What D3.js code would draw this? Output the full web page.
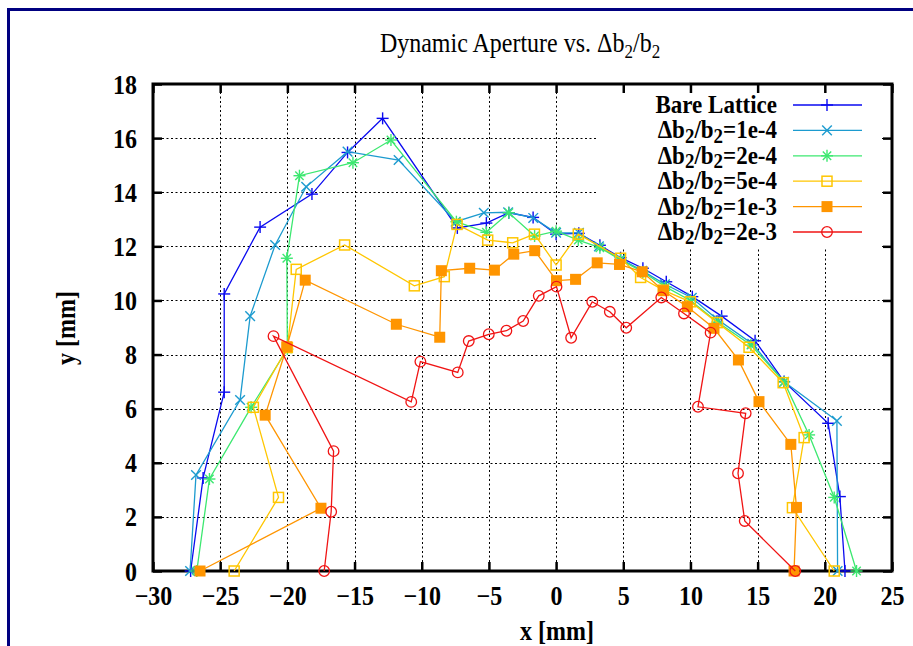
<!DOCTYPE html>
<html>
<head>
<meta charset="utf-8">
<script src="https://cdn.jsdelivr.net/npm/d3@7"></script>
<style>
  html, body { margin: 0; padding: 0; background: #fff; }
  svg { display: block; }
  svg text { font-family: "Liberation Serif", Tinos, "Times New Roman", "Nimbus Roman", "DejaVu Serif", serif; }
</style>
</head>
<body>
<svg id="chart" width="913" height="646"></svg>
<script>
// Dynamic aperture boundaries (x, y in mm) for several quadrupole error levels
const bareX = [-27.2, -26.27, -24.7, -24.7, -22.03, -18.17, -15.52, -12.91, -7.35, -5.19, -3.52, -1.71, 0.0, 1.69, 3.26, 4.8, 6.46, 8.2, 10.14, 12.32, 14.81, 16.97, 20.25, 21.12, 21.5];
const bareY = [0, 3.44, 6.61, 10.24, 12.71, 13.93, 15.47, 16.73, 12.68, 12.86, 13.24, 13.07, 12.45, 12.48, 12.04, 11.58, 11.19, 10.69, 10.14, 9.42, 8.51, 7.0, 5.46, 2.75, 0];

const e1X = [-27.24, -26.8, -23.52, -22.77, -20.91, -18.6, -15.52, -11.72, -7.47, -5.38, -3.57, -1.7, 0.0, 1.7, 3.19, 4.8, 6.4, 8.1, 10.1, 12.0, 14.6, 16.97, 20.9, 20.95];
const e1Y = [0, 3.55, 6.32, 9.42, 12.05, 14.2, 15.5, 15.19, 12.91, 13.24, 13.26, 13.05, 12.5, 12.5, 12.0, 11.53, 11.1, 10.6, 10.1, 9.3, 8.4, 6.99, 5.55, 0];

const e2X = [-26.74, -25.8, -22.7, -20.0, -20.04, -19.1, -15.12, -12.29, -7.42, -5.19, -3.52, -1.6, 0.0, 1.65, 3.26, 4.8, 6.46, 8.15, 10.0, 12.0, 14.5, 16.97, 18.83, 20.7, 22.36];
const e2Y = [0, 3.4, 6.05, 8.2, 11.56, 14.61, 15.09, 15.93, 12.91, 12.52, 13.24, 12.38, 12.56, 12.23, 11.95, 11.5, 11.05, 10.5, 10.0, 9.2, 8.35, 6.99, 5.03, 2.72, 0];

const e5X = [-23.96, -20.66, -22.53, -20.0, -19.34, -15.74, -10.55, -8.32, -7.37, -5.09, -3.23, -1.61, 0.0, 1.65, 4.8, 6.29, 7.98, 9.99, 12.0, 14.36, 16.9, 18.46, 17.59, 20.7];
const e5Y = [0, 2.72, 6.05, 8.26, 11.15, 12.05, 10.54, 10.88, 12.81, 12.23, 12.13, 12.45, 11.31, 12.45, 11.56, 10.85, 10.38, 9.95, 9.18, 8.27, 6.96, 4.93, 2.34, 0];

const e10X = [-26.5, -17.5, -21.65, -20.04, -18.67, -11.89, -8.66, -8.54, -6.43, -4.59, -3.15, -1.59, 0.03, 1.45, 3.06, 4.72, 6.41, 7.98, 9.77, 11.75, 13.57, 15.1, 17.47, 17.89, 17.71];
const e10Y = [0, 2.32, 5.76, 8.29, 10.75, 9.12, 8.64, 11.1, 11.19, 11.12, 11.71, 11.84, 10.73, 10.78, 11.39, 11.33, 11.06, 10.36, 9.77, 8.97, 7.8, 6.26, 4.68, 2.35, 0];

const e20X = [-17.26, -16.74, -16.56, -21.03, -10.78, -10.1, -7.32, -6.5, -5.01, -3.7, -2.45, -1.29, 0.03, 1.12, 2.69, 4.0, 5.22, 7.83, 9.52, 11.5, 10.56, 14.11, 13.54, 14.04, 17.8];
const e20Y = [0, 2.19, 4.43, 8.68, 6.25, 7.74, 7.34, 8.5, 8.75, 8.88, 9.24, 10.17, 10.51, 8.62, 9.95, 9.58, 8.99, 10.11, 9.52, 8.81, 6.07, 5.83, 3.61, 1.85, 0];

const xTicks = [-30, -25, -20, -15, -10, -5, 0, 5, 10, 15, 20, 25];
const yTicks = [0, 2, 4, 6, 8, 10, 12, 14, 16, 18];

const seriesNames = ["Bare Lattice", "1e-4", "2e-4", "5e-4", "1e-3", "2e-3"];
const seriesColors = ["#0a0af0", "#1c9bcf", "#3ce870", "#ffc600", "#ff9500", "#f01414"];
const seriesMarkers = ["plus", "cross", "star", "square", "fsquare", "circle"];
const seriesX = [bareX, e1X, e2X, e5X, e10X, e20X];
const seriesY = [bareY, e1Y, e2Y, e5Y, e10Y, e20Y];

const FONT = '"Liberation Serif", Tinos, "Times New Roman", "Nimbus Roman", "DejaVu Serif", serif';
const SY = 1.12; // glyphs are drawn slightly tall
const svg = d3.select("#chart");
const L = 153, T = 84, R = 892, B = 571;

// text placed at a baseline point, stretched vertically
function label(px, py, anchor, size, weight, rotate, sy) {
  const k = sy || SY;
  const g = svg.append("g").attr("transform", `translate(${px},${py})` + (rotate ? ` rotate(${rotate})` : "") + ` scale(1,${k})`);
  return g.append("text").attr("x", 0).attr("y", 0).attr("text-anchor", anchor)
    .attr("font-family", FONT).attr("font-size", size).attr("font-weight", weight).attr("fill", "#000");
}

// page frame
svg.append("rect").attr("x", 8.5).attr("y", 9.5).attr("width", 930).attr("height", 680)
  .attr("fill", "none").attr("stroke", "#000080").attr("stroke-width", 3);

const x = d3.scaleLinear().domain([-30, 25]).range([L, R]);
const y = d3.scaleLinear().domain([0, 18]).range([B, T]);

// title
const title = label(520, 52, "middle", 24, "normal");
title.append("tspan").text("Dynamic Aperture vs. \u0394b");
title.append("tspan").attr("font-size", 17).attr("dy", 5).text("2");
title.append("tspan").attr("dy", -5).text("/b");
title.append("tspan").attr("font-size", 17).attr("dy", 5).text("2");

// grid
const grid = svg.append("g").attr("stroke", "#000").attr("stroke-width", 1).attr("stroke-dasharray", "2,2.5");
grid.selectAll("line.gx").data(xTicks.slice(1, -1)).join("line")
  .attr("x1", d => Math.round(x(d)) + 0.5).attr("x2", d => Math.round(x(d)) + 0.5)
  .attr("y1", B).attr("y2", T);
grid.selectAll("line.gy").data(yTicks.slice(1, -1)).join("line")
  .attr("y1", d => Math.round(y(d)) + 0.5).attr("y2", d => Math.round(y(d)) + 0.5)
  .attr("x1", L).attr("x2", R);

// opaque key background
svg.append("rect").attr("x", 596).attr("y", 87).attr("width", 284).attr("height", 161).attr("fill", "#fff");

// axes with inward ticks on all four sides
const axisStyle = g => {
  g.attr("font-family", FONT);
  g.select(".domain").remove();
  g.selectAll(".tick line").attr("stroke", "#000").attr("stroke-width", 2.5);
  g.selectAll(".tick text").attr("font-family", FONT).attr("font-weight", "bold")
    .attr("font-size", 24).attr("fill", "#000");
};
svg.append("g").attr("transform", `translate(0,${B})`)
  .call(d3.axisBottom(x).tickValues(xTicks).tickSizeInner(-9).tickSizeOuter(0).tickFormat(d3.format("d")))
  .call(axisStyle)
  .call(g => g.selectAll(".tick text").attr("y", 0).attr("dy", null)
    .attr("transform", `translate(0,34) scale(1,${SY})`));
svg.append("g").attr("transform", `translate(0,${T})`)
  .call(d3.axisTop(x).tickValues(xTicks).tickSizeInner(-9).tickSizeOuter(0).tickFormat(""))
  .call(axisStyle);
svg.append("g").attr("transform", `translate(${L},0)`)
  .call(d3.axisLeft(y).tickValues(yTicks).tickSizeInner(-9).tickSizeOuter(0).tickFormat(d3.format("d")))
  .call(axisStyle)
  .call(g => g.selectAll(".tick text").attr("x", 0).attr("dy", null)
    .attr("transform", `translate(-16,9) scale(1,${SY})`));
svg.append("g").attr("transform", `translate(${R},0)`)
  .call(d3.axisRight(y).tickValues(yTicks).tickSizeInner(-9).tickSizeOuter(0).tickFormat(""))
  .call(axisStyle);

// plot border
svg.append("rect").attr("x", L).attr("y", T).attr("width", R - L).attr("height", B - T)
  .attr("fill", "none").attr("stroke", "#000").attr("stroke-width", 3);

// point markers
function marker(g, kind, cx, cy, color) {
  const s = 5.5;
  if (kind === "plus" || kind === "star") {
    g.append("line").attr("x1", cx - s - 0.5).attr("x2", cx + s + 0.5).attr("y1", cy).attr("y2", cy).attr("stroke", color).attr("stroke-width", 1.4);
    g.append("line").attr("x1", cx).attr("x2", cx).attr("y1", cy - s - 0.5).attr("y2", cy + s + 0.5).attr("stroke", color).attr("stroke-width", 1.4);
  }
  if (kind === "cross" || kind === "star") {
    const c = kind === "star" ? 4.2 : 4.8;
    g.append("line").attr("x1", cx - c).attr("x2", cx + c).attr("y1", cy - c).attr("y2", cy + c).attr("stroke", color).attr("stroke-width", 1.4);
    g.append("line").attr("x1", cx - c).attr("x2", cx + c).attr("y1", cy + c).attr("y2", cy - c).attr("stroke", color).attr("stroke-width", 1.4);
  }
  if (kind === "square") {
    g.append("rect").attr("x", cx - 5).attr("y", cy - 5).attr("width", 10).attr("height", 10)
      .attr("fill", "none").attr("stroke", color).attr("stroke-width", 1.5);
  }
  if (kind === "fsquare") {
    g.append("rect").attr("x", cx - 5.5).attr("y", cy - 5.5).attr("width", 11).attr("height", 11)
      .attr("fill", color).attr("stroke", "none");
  }
  if (kind === "circle") {
    g.append("circle").attr("cx", cx).attr("cy", cy).attr("r", 5.3)
      .attr("fill", "none").attr("stroke", color).attr("stroke-width", 1.3);
  }
}

// data series
const line = d3.line().x(d => x(d[0])).y(d => y(d[1]));
seriesX.forEach((xs, i) => {
  const pts = xs.map((v, k) => [v, seriesY[i][k]]);
  const g = svg.append("g");
  g.append("path").attr("d", line(pts)).attr("fill", "none")
    .attr("stroke", seriesColors[i]).attr("stroke-width", 1.3);
  pts.forEach(p => marker(g, seriesMarkers[i], x(p[0]), y(p[1]), seriesColors[i]));
});

// legend
const legY0 = 105, legDY = 25.4;
seriesNames.forEach((name, i) => {
  const ly = legY0 + i * legDY;
  const t = label(777, ly + 8, "end", 23, "bold", 0, 1.08);
  if (i === 0) {
    t.text(name);
  } else {
    t.append("tspan").text("\u0394b");
    t.append("tspan").attr("font-size", 19).attr("dy", 4).text("2");
    t.append("tspan").attr("dy", -4).text("/b");
    t.append("tspan").attr("font-size", 19).attr("dy", 4).text("2");
    t.append("tspan").attr("dy", -4).text("=" + name);
  }
  const g = svg.append("g");
  g.append("line").attr("x1", 793).attr("x2", 862).attr("y1", ly).attr("y2", ly)
    .attr("stroke", seriesColors[i]).attr("stroke-width", 1.3);
  marker(g, seriesMarkers[i], 827, ly, seriesColors[i]);
});

// axis labels
label(557, 640, "middle", 24, "bold").text("x [mm]");
label(75, 328, "middle", 24, "bold", -90).text("y [mm]");
</script>
</body>
</html>
